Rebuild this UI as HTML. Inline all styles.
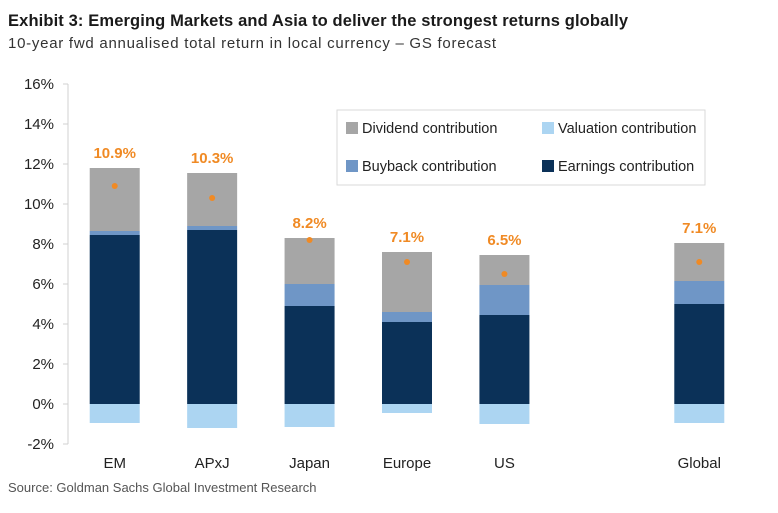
<!DOCTYPE html>
<html><head><meta charset="utf-8"><style>
body{margin:0;background:#fff;width:778px;height:508px;overflow:hidden;font-family:"Liberation Sans",sans-serif}
</style></head><body>
<svg width="778" height="508" xmlns="http://www.w3.org/2000/svg">
<text x="8" y="26" font-size="16.5" font-weight="bold" fill="#1a1a1a" textLength="620">Exhibit 3: Emerging Markets and Asia to deliver the strongest returns globally</text>
<text x="8" y="48" font-size="15" fill="#333" textLength="488">10-year fwd annualised total return in local currency – GS forecast</text>
<g id="plot"></g>
<g>
<rect x="337" y="110" width="368" height="75" fill="#fff" stroke="#d9d9d9"/>
<rect x="346" y="122" width="12" height="12" fill="#a6a6a6"/><text x="362" y="133" font-size="14.5" fill="#222">Dividend contribution</text>
<rect x="542" y="122" width="12" height="12" fill="#acd5f2"/><text x="558" y="133" font-size="14.5" fill="#222">Valuation contribution</text>
<rect x="346" y="160" width="12" height="12" fill="#6f96c6"/><text x="362" y="171" font-size="14.5" fill="#222">Buyback contribution</text>
<rect x="542" y="160" width="12" height="12" fill="#0b3158"/><text x="558" y="171" font-size="14.5" fill="#222">Earnings contribution</text>
</g>
<text x="8" y="492" font-size="13" fill="#555">Source: Goldman Sachs Global Investment Research</text>
</svg>
<script>
const categories=["EM","APxJ","Japan","Europe","US","","Global"];
const earnings=[8.45,8.7,4.9,4.1,4.45,null,5.0];
const buyback=[0.2,0.2,1.1,0.5,1.5,null,1.15];
const dividend=[3.15,2.65,2.3,3.0,1.5,null,1.9];
const valuation=[-0.95,-1.2,-1.15,-0.45,-1.0,null,-0.95];
const totals=[10.9,10.3,8.2,7.1,6.5,null,7.1];
const ticks=[-2,0,2,4,6,8,10,12,14,16];
const NS="http://www.w3.org/2000/svg";
const g=document.getElementById('plot');
const x0=66,x1=748,slot=(x1-x0)/categories.length,bw=50;
const y=v=>404-v*20;
const xc=i=>x0+slot*(i+0.5);
function mk(t,a){const e=document.createElementNS(NS,t);for(const k in a)e.setAttribute(k,a[k]);g.appendChild(e);return e;}
ticks.forEach(t=>{
 const e=mk('text',{x:54,y:y(t)+5,'text-anchor':'end','font-size':15,fill:'#222'});e.textContent=t+'%';
 
 
 const tk=mk('line',{x1:63,x2:68,y1:y(t),y2:y(t),stroke:'#d0d0d0'});
 
 
});
const ax=mk('line',{x1:68,x2:68,y1:y(16),y2:y(-2),stroke:'#d0d0d0'});


categories.forEach((c,i)=>{
 const cx=xc(i);
 if(c){const l=mk('text',{x:cx,y:468,'text-anchor':'middle','font-size':15,fill:'#222'});l.textContent=c;
 
 }
 if(earnings[i]==null)return;
 const segs=[[0,earnings[i],'#0b3158','earnings'],[earnings[i],earnings[i]+buyback[i],'#6f96c6','buyback'],[earnings[i]+buyback[i],earnings[i]+buyback[i]+dividend[i],'#a6a6a6','dividend'],[valuation[i],0,'#acd5f2','valuation']];
 segs.forEach(s=>{
  const r=mk('rect',{x:cx-bw/2,y:y(s[1]),width:bw,height:y(s[0])-y(s[1]),fill:s[2]});
  
  
 });
 const top=earnings[i]+buyback[i]+dividend[i];
 const d=mk('circle',{cx:cx,cy:y(totals[i]),r:3,fill:'#f08a24'});
 
 
 const t=mk('text',{x:cx,y:y(top)-10,'text-anchor':'middle','font-size':15,'font-weight':'bold',fill:'#f08a24'});
 t.textContent=totals[i].toFixed(1)+'%';
 
 
});
</script>
</body></html>
